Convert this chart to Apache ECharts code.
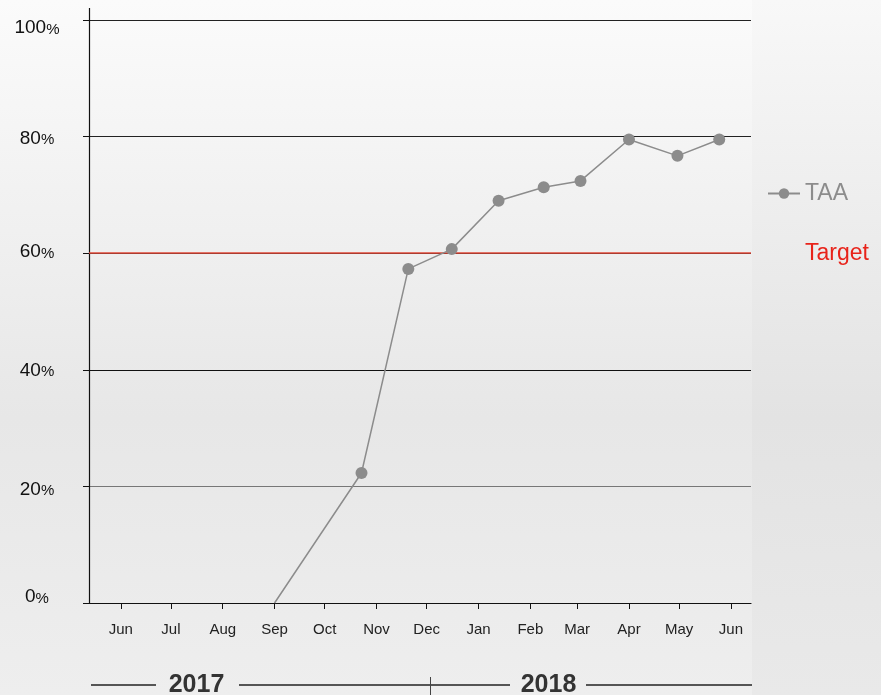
<!DOCTYPE html>
<html>
<head>
<meta charset="utf-8">
<script src="https://cdn.jsdelivr.net/npm/echarts@6/dist/echarts.min.js"></script>
<style>
html,body{margin:0;padding:0;background:#f0f0f0;}
#c{width:881px;height:695px;}
</style>
</head>
<body>
<div id="c"></div>
<script>
// ---- data ----
const dates = ['2017-09-01','2017-10-23','2017-11-20','2017-12-16','2018-01-13','2018-02-09','2018-03-03','2018-04-01','2018-04-30','2018-05-25'];
const taaValues = [0, 22.3, 57.3, 60.7, 69.0, 71.3, 72.4, 79.5, 76.7, 79.5];
const targetValue = 60;
const monthLabels = ['Jan','Feb','Mar','Apr','May','Jun','Jul','Aug','Sep','Oct','Nov','Dec'];
const years = ['2017','2018'];
const axisStart = '2017-05-13';
const axisEnd = '2018-06-13';
const seriesName = 'TAA';
const targetName = 'Target';

const chart = echarts.init(document.getElementById('c'), null, {renderer:'canvas'});

const FONT = '"Liberation Sans", Arial, Helvetica, sans-serif';

const taaData = dates.map((d, i) => {
  const item = {value: [d, taaValues[i]]};
  if (i === 0) item.symbol = 'none';
  return item;
});

// per-label vertical nudges (style only)
const labelTag = {0:'a', 20:'b', 40:'c', 60:'d', 80:'e', 100:'f'};
const labelShift = {a:-6, b:3, c:1, d:-1, e:2, f:8};
const rich = {};
Object.keys(labelShift).forEach(k => {
  const s = labelShift[k];
  rich[k] = {fontSize:19, fontFamily:FONT, color:'#111',
             padding: s >= 0 ? [s*2,0,0,0] : [0,0,-s*2,0]};
  rich[k+'p'] = {fontSize:15, fontFamily:FONT, color:'#111',
             padding: s >= 0 ? [s*2+3,0,0,0] : [3,0,-s*2,0]};
});

const option = {
  animation: false,
  textStyle: {fontFamily: FONT},
  graphic: [
    {type:'rect', z:-10, shape:{x:0,y:0,width:881,height:695},
     style:{fill:new echarts.graphic.LinearGradient(0,0,0,1,[
       {offset:0,color:'#f8f8f8'},{offset:0.6,color:'#e3e3e3'},{offset:1,color:'#e9e9e9'}])}},
    {type:'rect', z:-9, shape:{x:0,y:0,width:752,height:695},
     style:{fill:new echarts.graphic.LinearGradient(0,0,0,1,[
       {offset:0,color:'#fbfbfb'},{offset:0.6,color:'#e7e7e7'},{offset:1,color:'#eeeeee'}])}},
    // y-axis extension above 100%
    {type:'line', shape:{x1:89.5,y1:8,x2:89.5,y2:21}, style:{stroke:'#111',lineWidth:1.2}},
    // year axis
    {type:'line', shape:{x1:91,y1:685,x2:156,y2:685}, style:{stroke:'#555',lineWidth:2}},
    {type:'line', shape:{x1:239,y1:685,x2:510,y2:685}, style:{stroke:'#555',lineWidth:2}},
    {type:'line', shape:{x1:586,y1:685,x2:752,y2:685}, style:{stroke:'#555',lineWidth:2}},
    {type:'line', shape:{x1:430.5,y1:677,x2:430.5,y2:695}, style:{stroke:'#444',lineWidth:1}},
    {type:'text', x:196.5, y:685, style:{text:years[0], fill:'#333', font:'bold 25px '+FONT, align:'center', verticalAlign:'middle'}},
    {type:'text', x:548.5, y:685, style:{text:years[1], fill:'#333', font:'bold 25px '+FONT, align:'center', verticalAlign:'middle'}}
  ],
  grid: {left:89, right:130, top:20, bottom:92, containLabel:false},
  legend: {
    orient:'vertical', left:767, top:182, padding:0, itemWidth:32, itemHeight:13, itemGap:37,
    selectedMode:false,
    textStyle:{fontSize:23, fontFamily:FONT, color:'#8c8c8c'},
    data:[
      {name:seriesName, textStyle:{color:'#8c8c8c'}},
      {name:targetName, itemStyle:{opacity:0}, lineStyle:{opacity:0}, textStyle:{color:'#e8231a'}}
    ]
  },
  xAxis: {
    type:'time', min:axisStart, max:axisEnd,
    splitNumber:13, minInterval:28*86400000, maxInterval:31*86400000,
    axisLine:{lineStyle:{color:'#111',width:1.2}},
    axisTick:{show:true, length:6, lineStyle:{color:'#111'}},
    splitLine:{show:false},
    axisLabel:{
      margin:19, fontSize:15, color:'#222', fontFamily:FONT,
      formatter:function(v){ return monthLabels[new Date(v).getMonth()]; }
    }
  },
  yAxis: {
    type:'value', min:0, max:100, interval:20,
    axisLine:{show:true, lineStyle:{color:'#111',width:1.2}},
    axisTick:{show:true, length:6, lineStyle:{color:'#111'}},
    splitLine:{show:true, lineStyle:{color:['#222','#777','#111','#111','#222','#222'],width:1.2}},
    axisLabel:{
      margin:52, align:'center', color:'#111',
      formatter:function(v){ const t = labelTag[v]; return '{'+t+'|'+v+'}{'+t+'p|%}'; },
      rich:rich
    }
  },
  series: [
    {
      name:seriesName, type:'line', data:taaData,
      symbol:'circle', symbolSize:12,
      itemStyle:{color:'#8c8c8c'},
      lineStyle:{color:'#8c8c8c', width:1.5},
      z:5
    },
    {
      name:targetName, type:'line', data:[],
      itemStyle:{color:'#e8231a'},
      lineStyle:{color:'#e8231a'},
      markLine:{
        silent:true, symbol:'none', label:{show:false},
        lineStyle:{color:'#e04a3a', width:1.5, type:'solid'},
        data:[{yAxis:targetValue}]
      },
      z:3
    }
  ]
};
chart.setOption(option);
</script>
</body>
</html>
